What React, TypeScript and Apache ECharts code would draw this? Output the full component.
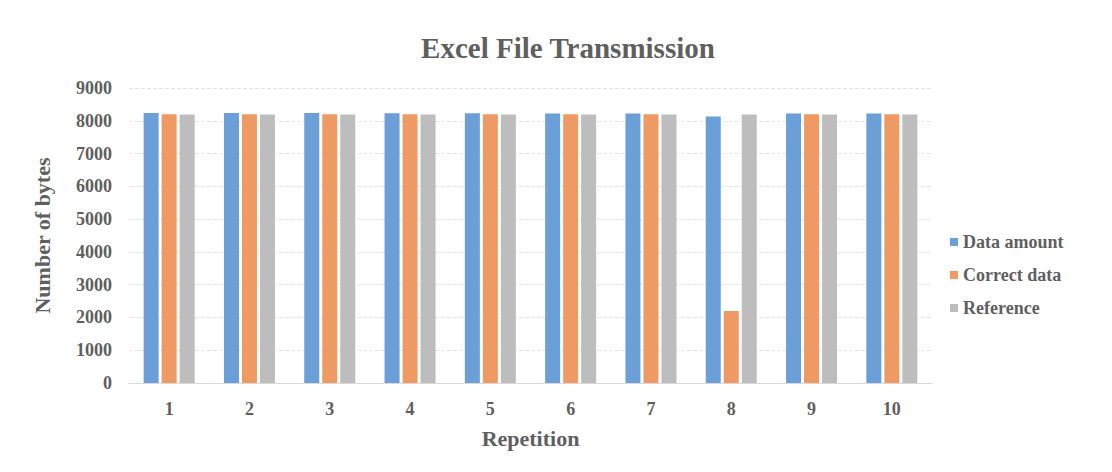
import React, { useEffect, useRef } from "react";
import * as echarts from "echarts";

const categories = ["1", "2", "3", "4", "5", "6", "7", "8", "9", "10"];
const dataAmount = [8240, 8235, 8235, 8230, 8230, 8225, 8225, 8130, 8220, 8220];
const correctData = [8200, 8200, 8200, 8200, 8200, 8200, 8200, 2200, 8200, 8200];
const reference = [8192, 8192, 8192, 8192, 8192, 8192, 8192, 8192, 8192, 8192];
const seriesNames = ["Data amount", "Correct data", "Reference"];
const colors = ["#6A9FD8", "#F09A63", "#BDBDBD"];

const FONT = "'Liberation Serif', 'DejaVu Serif', serif";
const TEXT = "#5f5f5f";

export default function App() {
  const ref = useRef<HTMLDivElement>(null);
  useEffect(() => {
    if (!ref.current) return;
    const chart = echarts.init(ref.current, null, { renderer: "svg" });
    const values = [dataAmount, correctData, reference];
    chart.setOption({
      animation: false,
      backgroundColor: "#ffffff",
      title: {
        text: "Excel File Transmission",
        left: 563,
        top: 28,
        textAlign: "center",
        textStyle: { fontFamily: FONT, fontSize: 29, fontWeight: "bold", color: TEXT },
      },
      legend: {
        orient: "vertical",
        left: 945,
        top: 228,
        itemWidth: 8,
        itemHeight: 8,
        itemGap: 15,
        icon: "rect",
        textStyle: { fontFamily: FONT, fontSize: 18, fontWeight: "bold", color: TEXT },
        data: seriesNames,
      },
      grid: { left: 129, right: 1112 - 932, top: 88, bottom: 472 - 383, containLabel: false },
      xAxis: {
        type: "category",
        data: categories,
        name: "Repetition",
        nameLocation: "middle",
        nameGap: 44,
        nameTextStyle: { fontFamily: FONT, fontSize: 22, fontWeight: "bold", color: TEXT },
        axisLine: { lineStyle: { color: "#d9d9d9" } },
        axisTick: { show: false },
        axisLabel: { fontFamily: FONT, fontSize: 18, fontWeight: "bold", color: TEXT, margin: 17 },
      },
      yAxis: {
        type: "value",
        min: 0,
        max: 9000,
        interval: 1000,
        name: "Number of bytes",
        nameLocation: "middle",
        nameGap: 76,
        nameRotate: 90,
        nameTextStyle: { fontFamily: FONT, fontSize: 22, fontWeight: "bold", color: TEXT },
        axisLine: { show: false },
        axisTick: { show: false },
        axisLabel: {
          fontFamily: FONT,
          fontSize: 18,
          fontWeight: "bold",
          color: TEXT,
          margin: 17,
          formatter: (v: number) => String(v),
        },
        splitLine: { lineStyle: { color: "#e4e4e4", type: "dashed" } },
      },
      series: seriesNames.map((name, i) => ({
        name,
        type: "bar",
        data: values[i],
        barWidth: 15,
        barGap: "20%",
        itemStyle: { color: colors[i] },
      })),
    });
    return () => chart.dispose();
  }, []);
  return <div ref={ref} style={{ width: 1112, height: 472, marginLeft: -8, marginTop: -8 }} />;
}
